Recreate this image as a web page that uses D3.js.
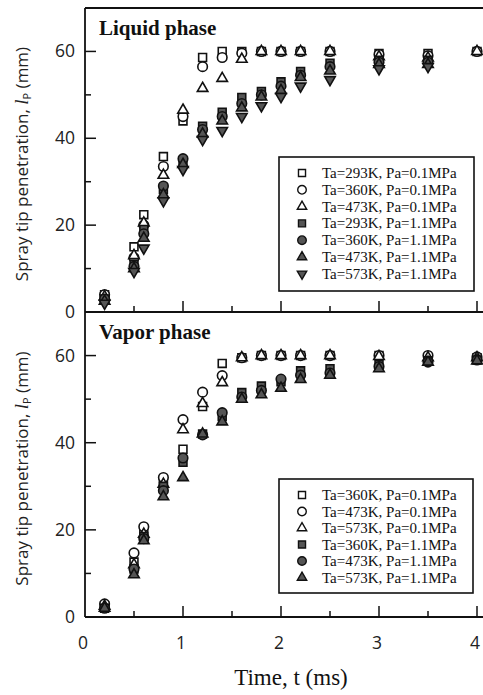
<!DOCTYPE html>
<html><head><meta charset="utf-8">
<script src="https://cdn.jsdelivr.net/npm/d3@7"></script>
<style>body{margin:0;background:#fff}</style>
</head><body>
<svg id="c" width="483" height="695"></svg>
<script>
const time = [0.2,0.5,0.6,0.8,1.0,1.2,1.4,1.6,1.8,2.0,2.2,2.5,3.0,3.5,4.0];

// Liquid phase
const liqLabels = ["Ta=293K, Pa=0.1MPa","Ta=360K, Pa=0.1MPa","Ta=473K, Pa=0.1MPa","Ta=293K, Pa=1.1MPa","Ta=360K, Pa=1.1MPa","Ta=473K, Pa=1.1MPa","Ta=573K, Pa=1.1MPa"];
const liq293_01 = [4,15,22.4,35.8,44,58.6,60,60,60,60,60,60,59.5,59.5,60];
const liq360_01 = [4,12.5,20,33.5,45,56.5,58.6,59.6,60,60,60,60,59.3,59,60];
const liq473_01 = [3.5,13,20.5,31.5,46.5,51.5,53.8,58.2,60,60,60,60,58.8,58.5,60];
const liq293_11 = [3,11,19,28.2,34.8,42.8,46,49.4,50.8,53,55.4,57.3,58,58,null];
const liq360_11 = [3,10.5,18,29,35.3,42,45,48,50,52,54.5,56.5,57.5,57.5,null];
const liq473_11 = [2.5,10,17,27,34,41,44,47,49.5,51,54,55.5,57,57,null];
const liq573_11 = [2,9.3,14.7,25.6,32.8,39.7,41.8,45,47.5,49.6,52,53.5,56,56.5,null];

// Vapor phase
const vapLabels = ["Ta=360K, Pa=0.1MPa","Ta=473K, Pa=0.1MPa","Ta=573K, Pa=0.1MPa","Ta=360K, Pa=1.1MPa","Ta=473K, Pa=1.1MPa","Ta=573K, Pa=1.1MPa"];
const vap360_01 = [2.5,12.6,19.5,30.8,38.5,48.3,58.2,59.5,60,60,60,60,60,59.5,59.5];
const vap473_01 = [3,14.7,20.7,32,45.3,51.6,55.4,59.5,60,60,60,60,60,60,59.7];
const vap573_01 = [2.5,12,19,30.5,43,49,53.8,59.5,60,60,60,60,59.8,59.5,59.5];
const vap360_11 = [2,11,18.5,30,35.5,42,46,51.5,53,54,56.5,57,58,58.8,59];
const vap473_11 = [2,11,18,29,36.5,41.8,46.9,50.5,52,54.6,55.5,56,57.5,58.5,59];
const vap573_11 = [2,9.7,17.5,27.6,32,42,44.8,50,51,52.5,54.5,55.5,57,58.5,58.8];

const xTicks = [0,1,2,3,4];
const yTicks = [0,20,40,60];

const svg = d3.select("#c");
const left = 85, right = 492;
const x = d3.scaleLinear().domain([0,4]).range([left, 477]);

const serif = "Liberation Serif, Times New Roman, serif";
const sans = "Open Sans, sans-serif";

const shapes = {
  sq: {type:d3.symbolSquare, size:62, rot:0},
  ci: {type:d3.symbolCircle, size:72, rot:0},
  tr: {type:d3.symbolTriangle, size:48, rot:0},
  dt: {type:d3.symbolTriangle, size:48, rot:180}
};

function panel(top, bottom, title, series, labels, legBox) {
  const y = d3.scaleLinear().domain([0,70]).range([bottom, top]);
  const g = svg.append("g");
  // frame
  g.append("line").attr("x1",left).attr("x2",right).attr("y1",top).attr("y2",top).attr("stroke","#111").attr("stroke-width",1.8);
  g.append("line").attr("x1",left).attr("x2",right).attr("y1",bottom).attr("y2",bottom).attr("stroke","#111").attr("stroke-width",1.8);
  g.append("line").attr("x1",left).attr("x2",left).attr("y1",top).attr("y2",bottom).attr("stroke","#111").attr("stroke-width",1.8);
  // y ticks
  const yAll = d3.range(0,70,10);
  g.selectAll(".yt").data(yAll).enter().append("line")
    .attr("x1",left).attr("x2",d=>left+(d%20===0?11:6))
    .attr("y1",d=>y(d)).attr("y2",d=>y(d)).attr("stroke","#111").attr("stroke-width",1.5);
  g.selectAll(".yl").data(yTicks).enter().append("text")
    .attr("x",75).attr("y",d=>y(d)+6).attr("text-anchor","end")
    .attr("font-family",sans).attr("font-size",17.5).attr("fill","#222").text(d=>d);
  // x ticks (inward, upward from bottom)
  const xAll = d3.range(0,4.01,0.5);
  g.selectAll(".xt").data(xAll.filter(d=>d>0)).enter().append("line")
    .attr("x1",d=>x(d)).attr("x2",d=>x(d))
    .attr("y1",bottom).attr("y2",d=>bottom-(Math.abs(d-Math.round(d))<1e-6?11:6))
    .attr("stroke","#111").attr("stroke-width",1.5);
  // title
  g.append("text").attr("x",99).attr("y",top+27).attr("font-family",serif)
    .attr("font-weight","bold").attr("font-size",21).attr("fill","#111").text(title);
  // y label
  const yc = (top+bottom)/2 + 4;
  const lab = g.append("text").attr("transform",`translate(28,${yc}) rotate(-90)`)
    .attr("text-anchor","middle").attr("font-family",sans).attr("font-size",17).attr("fill","#222");
  lab.append("tspan").text("Spray tip penetration, ");
  lab.append("tspan").attr("font-family",serif).attr("font-style","italic").attr("font-size",19).text("l");
  lab.append("tspan").attr("font-size",11).attr("dy",3).text("P");
  lab.append("tspan").attr("dy",-3).text(" (mm)");
  // points
  series.forEach(s => {
    const sh = shapes[s.shape];
    const sym = d3.symbol().type(sh.type).size(sh.size);
    g.selectAll(null).data(time.map((t,i)=>({t, v:s.values[i]})).filter(d=>d.v!=null))
      .enter().append("path")
      .attr("d", sym)
      .attr("transform", d=>`translate(${x(d.t)},${y(d.v)}) rotate(${sh.rot})`)
      .attr("fill", s.filled ? "#555" : "#fff")
      .attr("stroke","#111").attr("stroke-width",1.6);
  });
  // legend
  g.append("rect").attr("x",legBox.x).attr("y",legBox.y).attr("width",legBox.w).attr("height",legBox.h)
    .attr("fill","#fff").attr("stroke","#111").attr("stroke-width",1.6);
  series.forEach((s,i) => {
    const sh = shapes[s.shape];
    const ry = legBox.y + 16 + i*legBox.dy;
    g.append("path").attr("d", d3.symbol().type(sh.type).size(sh.size*0.8))
      .attr("transform",`translate(${legBox.x+23},${ry}) rotate(${sh.rot})`)
      .attr("fill", s.filled ? "#555" : "#fff").attr("stroke","#111").attr("stroke-width",1.4);
    g.append("text").attr("x",legBox.x+43).attr("y",ry+5)
      .attr("font-family",serif).attr("font-size",15).attr("fill","#111").text(labels[i]);
  });
  return y;
}

panel(8, 312, "Liquid phase", [
  {values:liq293_01, shape:"sq", filled:false},
  {values:liq360_01, shape:"ci", filled:false},
  {values:liq473_01, shape:"tr", filled:false},
  {values:liq293_11, shape:"sq", filled:true},
  {values:liq360_11, shape:"ci", filled:true},
  {values:liq473_11, shape:"tr", filled:true},
  {values:liq573_11, shape:"dt", filled:true}
], liqLabels, {x:279, y:157, w:195, h:134, dy:16.8});

panel(312, 617, "Vapor phase", [
  {values:vap360_01, shape:"sq", filled:false},
  {values:vap473_01, shape:"ci", filled:false},
  {values:vap573_01, shape:"tr", filled:false},
  {values:vap360_11, shape:"sq", filled:true},
  {values:vap473_11, shape:"ci", filled:true},
  {values:vap573_11, shape:"tr", filled:true}
], vapLabels, {x:279, y:479, w:194, h:114, dy:16.5});

// x tick labels
svg.selectAll(".xl").data(xTicks).enter().append("text")
  .attr("x",d=>x(d)-2).attr("y",649).attr("text-anchor","middle")
  .attr("font-family",sans).attr("font-size",17.5).attr("fill","#222").text(d=>d);
svg.append("text").attr("x",291).attr("y",685).attr("text-anchor","middle")
  .attr("font-family",serif).attr("font-size",23).attr("fill","#111").text("Time, t (ms)");
</script>
</body></html>
